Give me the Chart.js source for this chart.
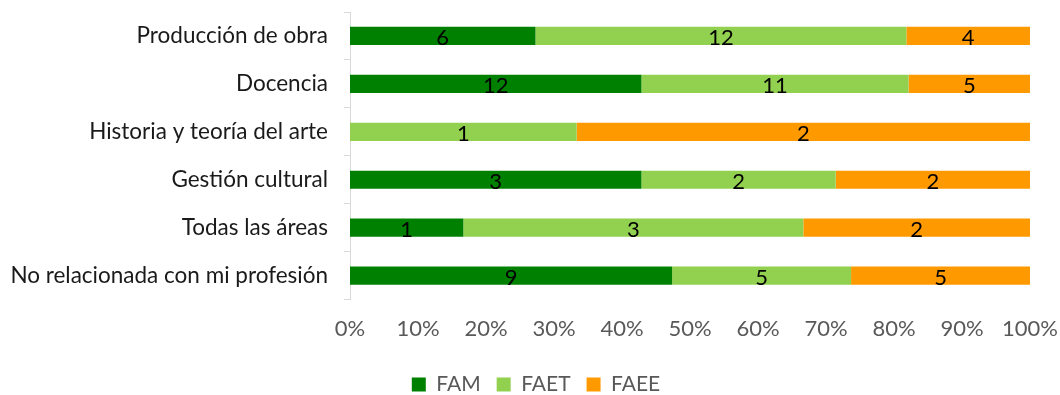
<!DOCTYPE html>
<html lang="es">
<head>
<meta charset="UTF-8">
<title>Áreas de desempeño por facultad</title>
<script src="https://cdn.jsdelivr.net/npm/chart.js"></script>
<style>
  * { margin: 0; padding: 0; box-sizing: border-box; }
  body { background: #fff; }
  .wrap { width: 1060px; height: 395px; }
</style>
</head>
<body>
<div class="wrap"><canvas id="chart"></canvas></div>
<script>
// Áreas de desempeño y número de egresados por facultad
const areas = [
  'Producción de obra',
  'Docencia',
  'Historia y teoría del arte',
  'Gestión cultural',
  'Todas las áreas',
  'No relacionada con mi profesión'
];
const fam  = [6, 12, 0, 3, 1, 9];
const faet = [12, 11, 1, 2, 3, 5];
const faee = [4, 5, 2, 2, 2, 5];
const xTicks = [0, 10, 20, 30, 40, 50, 60, 70, 80, 90, 100];

const totals = areas.map((_, i) => fam[i] + faet[i] + faee[i]);
const share = arr => arr.map((v, i) => v / totals[i] * 100);

const FONT = 'Lato, "Noto Sans", sans-serif';

// draws the raw count centred on each segment
const countLabels = {
  id: 'countLabels',
  afterDatasetsDraw(chart) {
    const ctx = chart.ctx;
    ctx.save();
    ctx.font = '22px ' + FONT;
    ctx.fillStyle = '#000';
    ctx.textAlign = 'center';
    ctx.textBaseline = 'middle';
    chart.data.datasets.forEach((ds, di) => {
      chart.getDatasetMeta(di).data.forEach((bar, i) => {
        const n = ds.counts[i];
        if (!n) return;
        const cx = (bar.x + bar.base) / 2;
        ctx.fillText(String(n), cx, bar.y + 2);
      });
    });
    ctx.restore();
  }
};

new Chart(document.getElementById('chart'), {
  type: 'bar',
  data: {
    labels: areas,
    datasets: [
      { label: 'FAM',  data: share(fam),  counts: fam,  backgroundColor: '#008000' },
      { label: 'FAET', data: share(faet), counts: faet, backgroundColor: '#92d050' },
      { label: 'FAEE', data: share(faee), counts: faee, backgroundColor: '#ff9900' }
    ]
  },
  options: {
    indexAxis: 'y',
    responsive: true,
    maintainAspectRatio: false,
    animation: false,
    categoryPercentage: 1,
    barPercentage: 0.38,
    layout: { padding: { top: 12, right: 0, left: 12, bottom: -10 } },
    scales: {
      x: {
        stacked: true,
        min: 0,
        max: 100,
        afterBuildTicks: axis => { axis.ticks = xTicks.map(v => ({ value: v })); },
        afterFit: s => { s.paddingLeft = 0; s.paddingRight = 30; },
        grid: { display: false, drawTicks: false },
        border: { display: false },
        ticks: {
          color: '#595959',
          font: { family: FONT, size: 22 },
          padding: 16,
          maxRotation: 0,
          callback: v => v + '%'
        }
      },
      y: {
        stacked: true,
        afterFit: s => { s.width = 338; s.paddingTop = 0; s.paddingBottom = 0; },
        grid: { drawOnChartArea: false, drawTicks: true, tickLength: 6, color: '#d9d9d9', offset: true },
        border: { display: true, color: '#d9d9d9' },
        ticks: {
          color: '#1a1a1a',
          font: { family: FONT, size: 22.5 },
          padding: 16
        }
      }
    },
    plugins: {
      legend: {
        position: 'bottom',
        padding: 0,
        labels: {
          color: '#595959',
          font: { family: FONT, size: 21 },
          boxWidth: 14,
          boxHeight: 14,
          padding: 16
        }
      },
      tooltip: { enabled: false }
    }
  },
  plugins: [countLabels]
});
</script>
</body>
</html>
